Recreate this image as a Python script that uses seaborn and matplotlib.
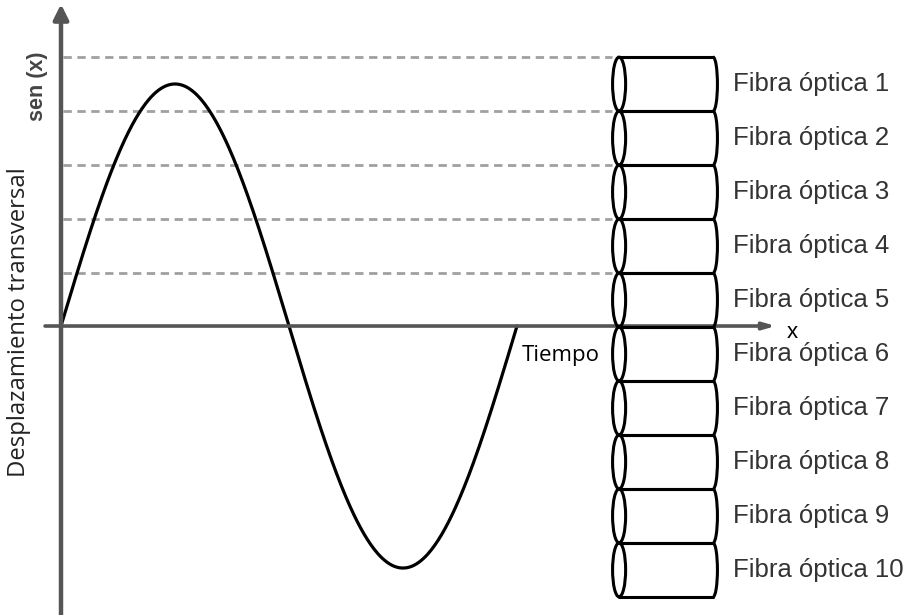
import numpy as np
import matplotlib
matplotlib.use("Agg")
import matplotlib.pyplot as plt
import seaborn as sns
from matplotlib.patches import Ellipse, Arc

# Data
fiber_labels = [f"Fibra óptica {i}" for i in range(1, 11)]
fiber_tops = [1.111, 0.888, 0.665, 0.442, 0.219, -0.004, -0.227, -0.450, -0.673, -0.896]
fiber_height = 0.223
dashed_levels = [1.111, 0.888, 0.665, 0.442, 0.219]

# one full period of sen(x)
t = np.linspace(0, 2 * np.pi, 400)
wave = np.sin(t)

# fiber bundle position along the time axis
fiber_x0 = 7.69
fiber_x1 = 8.985

sns.set_style("white")
fig = plt.figure(figsize=(9.07, 6.15), dpi=100)
ax = fig.add_axes([0, 0, 1, 1])
ax.set_xlim(-0.8405, 11.657)
ax.set_ylim(-1.194, 1.347)
ax.axis("off")

# dashed guide lines
for lvl in dashed_levels:
    sns.lineplot(x=[0.03, fiber_x0 - 0.1], y=[lvl, lvl], ax=ax, color="#a0a0a0",
                 lw=2, linestyle=(0, (3, 2)))

# sine wave
sns.lineplot(x=t, y=wave, ax=ax, color="black", lw=2.3, sort=False)

# axes arrows
ax.annotate("", xy=(0, 1.33), xytext=(0, -1.2),
            arrowprops=dict(arrowstyle="-|>,head_length=0.9,head_width=0.45",
                            color="#555555", lw=3.2, shrinkA=0, shrinkB=0))
ax.annotate("", xy=(9.85, 0), xytext=(-0.22, 0),
            arrowprops=dict(arrowstyle="-|>,head_length=0.7,head_width=0.2",
                            color="#555555", lw=2.6, shrinkA=0, shrinkB=0))

# fibers drawn as cylinders
ew = 0.18
aw = 0.12
for top, lab in zip(fiber_tops, fiber_labels):
    bot = top - fiber_height
    mid = top - fiber_height / 2
    ax.add_patch(Ellipse((fiber_x0, mid), ew, fiber_height, fill=False,
                         ec="black", lw=2.2, zorder=5))
    ax.plot([fiber_x0, fiber_x1], [top, top], color="black", lw=2.2, zorder=5)
    ax.plot([fiber_x0, fiber_x1], [bot, bot], color="black", lw=2.2, zorder=5)
    ax.add_patch(Arc((fiber_x1, mid), aw, fiber_height, theta1=-90, theta2=90,
                     ec="black", lw=2.2, zorder=5))
    ax.text(9.26, mid, lab, fontsize=18.5, color="#333333", va="center",
            ha="left", family="Liberation Sans")

# text labels
ax.text(6.35, -0.12, "Tiempo", fontsize=16, color="black", va="center",
        ha="left", family="Open Sans")
ax.text(10.0, -0.025, "x", fontsize=16, color="black", va="center",
        ha="left", family="Liberation Sans")
ax.text(-0.33, 0.99, "sen (x)", fontsize=15.5, color="#444444", rotation=90,
        va="center", ha="center", fontweight="bold", family="Liberation Sans")
ax.text(-0.58, 0.015, "Desplazamiento transversal", fontsize=17.2, color="#222222",
        rotation=90, va="center", ha="center", family="Open Sans")

fig.savefig("out.png", dpi=100)
